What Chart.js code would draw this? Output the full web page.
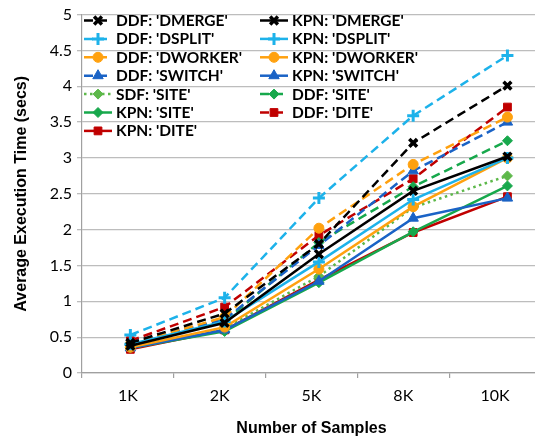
<!DOCTYPE html>
<html>
<head>
<meta charset="utf-8">
<script src="https://cdn.jsdelivr.net/npm/chart.js@4.4.1/dist/chart.umd.min.js"></script>
<style>
  html, body { margin: 0; padding: 0; background: #fff; overflow: hidden; }
  #wrap { width: 535px; height: 443px; overflow: hidden; }
  canvas { display: block; }
</style>
</head>
<body>
<div id="wrap"><canvas id="c" width="550" height="443" style="width:550px;height:443px"></canvas></div>
<script>
// ---- data ----
const categories = ['1K', '2K', '5K', '8K', '10K'];
const seriesNames = [
  "DDF: 'DMERGE'", "KPN: 'DMERGE'",
  "DDF: 'DSPLIT'", "KPN: 'DSPLIT'",
  "DDF: 'DWORKER'", "KPN: 'DWORKER'",
  "DDF: 'SWITCH'", "KPN: 'SWITCH'",
  "SDF: 'SITE'", "DDF: 'SITE'",
  "KPN: 'SITE'", "DDF: 'DITE'",
  "KPN: 'DITE'"
];
const ddfDmerge  = [0.42, 0.83, 1.80, 3.21, 4.01];
const kpnDmerge  = [0.38, 0.70, 1.66, 2.54, 3.02];
const ddfDsplit  = [0.53, 1.05, 2.44, 3.59, 4.43];
const kpnDsplit  = [0.40, 0.72, 1.55, 2.42, 3.00];
const ddfDworker = [0.40, 0.78, 2.02, 2.91, 3.57];
const kpnDworker = [0.36, 0.64, 1.45, 2.32, 3.00];
const ddfSwitch  = [0.42, 0.75, 1.78, 2.82, 3.50];
const kpnSwitch  = [0.35, 0.60, 1.28, 2.16, 2.44];
const sdfSite    = [0.36, 0.62, 1.35, 2.31, 2.75];
const ddfSite    = [0.40, 0.72, 1.82, 2.60, 3.24];
const kpnSite    = [0.35, 0.58, 1.26, 1.97, 2.61];
const ddfDite    = [0.45, 0.92, 1.92, 2.71, 3.71];
const kpnDite    = [0.33, 0.60, 1.30, 1.96, 2.46];
const seriesValues = [ddfDmerge, kpnDmerge, ddfDsplit, kpnDsplit, ddfDworker, kpnDworker,
  ddfSwitch, kpnSwitch, sdfSite, ddfSite, kpnSite, ddfDite, kpnDite];

// ---- styles ----
const BLACK = '#000000', CYAN = '#1DB2EA', ORANGE = '#FFA10F', BLUE = '#1A63C6',
      LGREEN = '#5DB84A', GREEN = '#17A84C', RED = '#C00000';
const DASH = [9, 5], DOT = [2.5, 3.5], SOLID = [];
const styles = [
  {c: BLACK, d: DASH, p: 'crossRot', r: 5.5, pw: 3.5},
  {c: BLACK, d: SOLID, p: 'crossRot', r: 5.5, pw: 3.5},
  {c: CYAN, d: DASH, p: 'cross', r: 6, pw: 3},
  {c: CYAN, d: SOLID, p: 'cross', r: 6, pw: 3},
  {c: ORANGE, d: DASH, p: 'circle', r: 5, pw: 1},
  {c: ORANGE, d: SOLID, p: 'circle', r: 5, pw: 1},
  {c: BLUE, d: DASH, p: 'triangle', r: 6, pw: 1},
  {c: BLUE, d: SOLID, p: 'triangle', r: 6, pw: 1},
  {c: LGREEN, d: DOT, p: 'rectRot', r: 5, pw: 1},
  {c: GREEN, d: DASH, p: 'rectRot', r: 5, pw: 1},
  {c: GREEN, d: SOLID, p: 'rectRot', r: 5, pw: 1},
  {c: RED, d: DASH, p: 'rect', r: 5.5, pw: 1},
  {c: RED, d: SOLID, p: 'rect', r: 5.5, pw: 1}
];

const datasets = seriesNames.map((name, k) => {
  const s = styles[k];
  return {
    label: name,
    xAxisID: 'xd',
    data: seriesValues[k].map((v, i) => ({x: i, y: v})),
    borderColor: s.c,
    backgroundColor: s.c,
    borderWidth: 2.5,
    borderDash: s.d,
    pointStyle: s.p,
    pointRadius: s.r,
    pointBorderWidth: s.pw,
    pointBorderColor: s.c,
    pointBackgroundColor: s.c,
    tension: 0,
    fill: false
  };
});

const legendPlugin = {
  id: 'twoColLegend',
  afterDraw(chart) {
    const ctx = chart.ctx;
    ctx.save();
    ctx.font = 'bold 15.5px Lato';
    ctx.textBaseline = 'middle';
    ctx.textAlign = 'left';
    chart.data.datasets.forEach((ds, k) => {
      const col = k % 2, row = Math.floor(k / 2);
      const x0 = col === 0 ? 84 : 260;
      const y = 20.5 + row * 18.4;
      ctx.save();
      ctx.strokeStyle = ds.borderColor;
      ctx.lineWidth = 2.5;
      ctx.setLineDash(ds.borderDash);
      ctx.beginPath();
      ctx.moveTo(x0, y);
      ctx.lineTo(x0 + 28, y);
      ctx.stroke();
      ctx.setLineDash([]);
      ctx.fillStyle = ds.pointBackgroundColor;
      ctx.strokeStyle = ds.pointBorderColor;
      ctx.lineWidth = ds.pointBorderWidth;
      Chart.helpers.drawPoint(ctx, {pointStyle: ds.pointStyle, rotation: 0, radius: ds.pointRadius, borderWidth: ds.pointBorderWidth}, x0 + 14, y);
      ctx.restore();
      ctx.fillStyle = '#000';
      ctx.fillText(ds.label, x0 + 32, y + 0.5);
    });
    ctx.restore();
  }
};

new Chart(document.getElementById('c'), {
  type: 'line',
  data: { labels: categories, datasets },
  plugins: [legendPlugin],
  options: {
    responsive: false,
    animation: false,
    layout: { padding: { top: 12, right: 3, left: 0, bottom: 0 } },
    plugins: { legend: { display: false }, tooltip: { enabled: false } },
    scales: {
      x: {
        type: 'category',
        position: 'bottom',
        offset: true,
        grid: { offset: true, drawOnChartArea: false, drawTicks: true, tickLength: 5, color: '#A0A0A0', lineWidth: 1.2 },
        border: { color: '#A0A0A0', width: 1.2 },
        ticks: { font: { family: 'Lato', size: 16 }, color: '#000', padding: 8, maxRotation: 0 },
        title: { display: true, text: 'Number of Samples', font: { family: 'Liberation Sans', size: 16, weight: 'bold' }, color: '#000', padding: { top: 0, bottom: 5 } },
        afterFit(scale) { scale.height = 70; }
      },
      xd: {
        type: 'linear',
        display: false,
        min: -0.513,
        max: 4.356
      },
      y: {
        min: 0, max: 5,
        ticks: { stepSize: 0.5, font: { family: 'Lato', size: 16 }, color: '#000', padding: 5,
                 callback: (v) => String(Math.round(v * 10) / 10) },
        grid: { color: '#BDBDBD', lineWidth: 1.3, tickLength: 5, drawTicks: true },
        border: { color: '#A0A0A0', width: 1.2 },
        title: { display: true, text: 'Average Execution Time (secs)', font: { family: 'Liberation Sans', size: 16, weight: 'bold' }, color: '#000', padding: { top: 12, bottom: 0 } },
        afterFit(scale) { scale.width = 82; }
      }
    }
  }
});
</script>
</body>
</html>
